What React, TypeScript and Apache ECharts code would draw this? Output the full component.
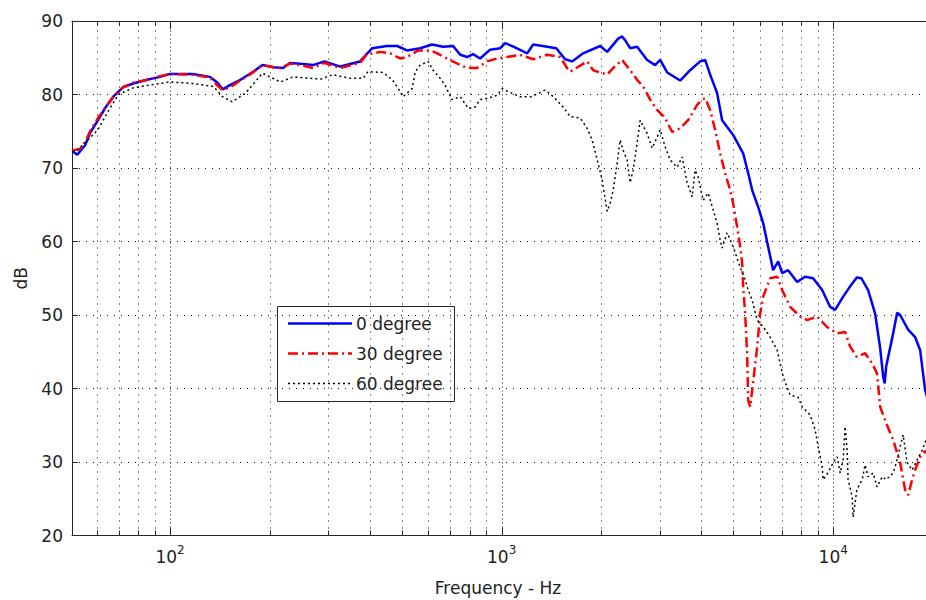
import { useEffect, useRef } from 'react';
import * as echarts from 'echarts';

const FONT = 'DejaVu Sans';

// 0 degree (blue)
const freq0 = [50.7, 52.5, 55.4, 57.4, 60.6, 64.0, 67.4, 72.2, 77.4, 85.3, 93.3, 100, 117, 132, 139, 144, 152, 163, 178, 190, 205, 219, 230, 247, 270, 292, 326, 374, 407, 451, 484, 518, 568, 617, 666, 714, 750, 787, 820, 861, 923, 990, 1025, 1085, 1194, 1245, 1372, 1461, 1554, 1632, 1761, 1982, 2081, 2247, 2309, 2357, 2441, 2562, 2747, 2903, 3007, 3157, 3455, 3703, 3970, 4109, 4255, 4465, 4624, 4991, 5351, 5540, 5697, 5938, 6149, 6365, 6590, 6825, 7015, 7312, 7786, 8230, 8700, 9262, 9792, 10137, 10716, 11251, 11780, 12163, 12744, 13380, 13857, 14149, 14300, 14447, 15166, 15591, 15921, 16826, 17663, 18294, 18934, 20000];
const db0 = [72.3, 71.8, 73.1, 74.8, 76.5, 78.3, 79.7, 81.0, 81.5, 82.0, 82.4, 82.8, 82.8, 82.4, 81.6, 80.7, 81.3, 82.0, 83.1, 84.0, 83.7, 83.6, 84.3, 84.2, 84.0, 84.5, 83.8, 84.5, 86.3, 86.6, 86.6, 86.0, 86.3, 86.8, 86.5, 86.6, 85.4, 85.1, 85.5, 84.9, 86.1, 86.3, 87.0, 86.5, 85.6, 86.8, 86.5, 86.3, 84.8, 84.5, 85.6, 86.6, 85.8, 87.6, 87.9, 87.4, 86.3, 86.5, 84.7, 84.0, 84.7, 83.0, 81.9, 83.3, 84.5, 84.7, 82.7, 80.2, 76.5, 74.5, 72.0, 69.3, 67.0, 64.7, 62.5, 59.3, 56.1, 57.3, 55.7, 56.1, 54.5, 55.2, 55.0, 53.4, 51.1, 50.7, 52.5, 53.9, 55.1, 55.0, 53.4, 50.2, 45.5, 41.6, 40.7, 43.0, 47.5, 50.3, 50.0, 48.0, 47.0, 45.2, 39.8, 36.0];

// 30 degree (red)
const freq30 = [50.7, 53.5, 55.4, 57.4, 60.6, 64.0, 67.4, 72.2, 77.4, 85.3, 93.3, 100, 117, 132, 139, 144, 152, 163, 178, 190, 205, 215, 230, 247, 270, 292, 326, 374, 391, 430, 461, 494, 518, 561, 609, 639, 684, 735, 787, 843, 904, 969, 1039, 1137, 1245, 1372, 1501, 1575, 1609, 1811, 1888, 2081, 2170, 2309, 2441, 2562, 2672, 2805, 2944, 3112, 3268, 3455, 3651, 3886, 4025, 4109, 4255, 4404, 4561, 4721, 4889, 4991, 5131, 5241, 5314, 5351, 5425, 5501, 5540, 5620, 5899, 6022, 6149, 6455, 6778, 7015, 7417, 7950, 8344, 8942, 9562, 10279, 10864, 11251, 11780, 12483, 13108, 13567, 13857, 14447, 15166, 15921, 16478, 16826, 17302, 17663, 18294, 18934, 20000];
const db30 = [72.4, 72.6, 73.5, 75.0, 76.8, 78.3, 79.7, 81.0, 81.6, 82.0, 82.5, 82.8, 82.7, 82.3, 81.2, 80.6, 81.0, 81.9, 83.0, 84.0, 83.7, 83.6, 84.2, 84.0, 83.6, 84.3, 83.6, 84.3, 85.4, 85.8, 85.6, 84.9, 85.1, 86.0, 86.0, 85.6, 84.9, 84.2, 83.6, 83.6, 84.5, 84.9, 85.1, 85.4, 84.8, 85.4, 85.1, 83.6, 83.1, 84.5, 83.3, 82.7, 83.6, 84.7, 83.3, 82.0, 81.1, 79.3, 77.9, 76.8, 74.9, 75.4, 76.5, 78.6, 79.3, 79.5, 77.9, 75.2, 72.0, 69.3, 67.0, 65.2, 62.0, 59.3, 57.1, 53.9, 50.2, 44.8, 38.4, 37.5, 45.7, 50.2, 52.5, 55.0, 55.2, 53.4, 51.1, 49.8, 49.3, 49.8, 48.4, 47.5, 47.7, 45.7, 44.3, 44.8, 43.4, 42.0, 37.5, 35.3, 33.0, 29.9, 26.2, 25.5, 27.6, 28.9, 30.7, 31.5, 30.0];

// 60 degree (black)
const freq60 = [50.7, 52.5, 60.6, 64.6, 69.9, 77.4, 87, 100, 117, 135, 144, 154, 169, 190, 215, 235, 264, 285, 310, 349, 382, 395, 439, 468, 488, 504, 537, 549, 568, 600, 621, 652, 675, 707, 750, 793, 831, 861, 910, 969, 1004, 1046, 1137, 1228, 1353, 1431, 1533, 1609, 1725, 1811, 1875, 1942, 2010, 2081, 2125, 2170, 2231, 2277, 2325, 2390, 2441, 2492, 2562, 2617, 2747, 2844, 2944, 3007, 3112, 3223, 3383, 3503, 3626, 3755, 3832, 3914, 4054, 4197, 4345, 4465, 4561, 4624, 4788, 4991, 5241, 5425, 5540, 5697, 5899, 6149, 6455, 6778, 6919, 7064, 7417, 7840, 8061, 8522, 8819, 9005, 9262, 9327, 9629, 9998, 10279, 10496, 10716, 10864, 11015, 11092, 11408, 11488, 11780, 12228, 12483, 12744, 13199, 13567, 14051, 14447, 15166, 15591, 15921, 16255, 16709, 17302, 17910, 18550, 19066, 20000];
const db60 = [72.2, 72.4, 75.2, 77.5, 80.0, 80.9, 81.3, 81.7, 81.5, 81.1, 79.7, 79.0, 80.2, 82.9, 81.7, 82.4, 82.2, 82.1, 82.7, 82.2, 82.2, 83.1, 83.0, 82.0, 80.8, 79.7, 80.8, 83.1, 84.0, 84.5, 83.3, 82.2, 81.3, 79.3, 79.7, 78.1, 78.3, 79.3, 79.5, 79.9, 80.8, 80.4, 79.7, 79.7, 80.6, 79.7, 78.3, 77.0, 76.8, 75.4, 73.8, 71.1, 68.4, 64.1, 65.2, 67.0, 70.7, 73.8, 72.4, 71.1, 68.0, 69.7, 73.4, 76.5, 74.7, 72.7, 74.2, 75.2, 72.9, 71.1, 70.1, 71.5, 68.0, 66.1, 69.7, 68.8, 65.6, 66.6, 64.3, 62.5, 60.2, 59.1, 61.2, 59.3, 56.5, 54.8, 53.4, 52.0, 49.3, 48.4, 47.0, 45.2, 43.4, 41.6, 39.1, 38.8, 37.5, 36.4, 34.4, 32.1, 29.4, 27.6, 28.5, 29.9, 30.7, 28.5, 30.3, 34.8, 31.6, 27.6, 25.3, 22.5, 26.2, 27.6, 29.6, 28.0, 28.5, 26.6, 28.0, 27.6, 28.5, 30.3, 32.1, 33.7, 29.9, 28.9, 30.3, 31.6, 33.0, 32.0];

const seriesNames = ['0 degree', '30 degree', '60 degree'];
const minorFreqs = [60, 70, 80, 90, 200, 300, 400, 500, 600, 700, 800, 900, 2000, 3000, 4000, 5000, 6000, 7000, 8000, 9000];
const majorFreqs = [100, 1000, 10000];
const xLabel = 'Frequency - Hz';
const yLabel = 'dB';

const zip = (xs: number[], ys: number[]) => xs.map((x, i) => [x, ys[i]]);

export default function App() {
  const ref = useRef<HTMLDivElement>(null);
  useEffect(() => {
    if (!ref.current) return;
    const chart = echarts.init(ref.current, undefined, { renderer: 'svg' });
    const textColor = '#222';
    const axisLine = { show: true, onZero: false, lineStyle: { color: '#262626', width: 1 } };
    const gridData = [
      ...minorFreqs.map((f) => [f, 20, 0]),
      ...majorFreqs.map((f) => [f, 20, 1]),
    ];
    const labelFmt = (v: number) => {
      const e = Math.log10(v);
      const r = Math.round(e);
      if (Math.abs(e - r) < 1e-6) return '{b|10}{sup|' + r + '}';
      return '';
    };
    chart.setOption({
      animation: false,
      backgroundColor: '#fff',
      grid: { left: 72, right: 7, top: 21, bottom: 64.5, containLabel: false },
      xAxis: [
        {
          type: 'log',
          logBase: 10,
          min: 50.6,
          max: 20000,
          position: 'bottom',
          axisLine,
          axisTick: { show: false },
          splitLine: { show: false },
          minorTick: { show: false },
          axisLabel: {
            formatter: labelFmt,
            margin: 8,
            color: textColor,
            rich: {
              b: { fontFamily: FONT, fontSize: 17, color: textColor, verticalAlign: 'bottom', lineHeight: 22 },
              sup: { fontFamily: FONT, fontSize: 12, color: textColor, verticalAlign: 'bottom', padding: [0, 0, 10, 0], lineHeight: 22 },
            },
          },
        },
        {
          type: 'log',
          logBase: 10,
          min: 50.6,
          max: 20000,
          position: 'top',
          axisLine,
          axisTick: { show: false },
          axisLabel: { show: false },
          splitLine: { show: false },
        },
      ],
      yAxis: [
        {
          type: 'value',
          min: 20,
          max: 90,
          interval: 10,
          position: 'left',
          axisLine,
          axisTick: { show: true, inside: true, length: 6, lineStyle: { color: '#262626' } },
          splitLine: { show: true, lineStyle: { color: '#111', width: 1, type: [1, 6] } },
          axisLabel: { fontFamily: FONT, fontSize: 17, color: textColor, margin: 9 },
          name: yLabel,
          nameLocation: 'middle',
          nameGap: 43,
          nameRotate: 90,
          nameTextStyle: { fontFamily: FONT, fontSize: 17, color: textColor },
        },
        {
          type: 'value',
          min: 20,
          max: 90,
          interval: 10,
          position: 'right',
          axisLine,
          axisTick: { show: true, inside: true, length: 6 },
          axisLabel: { show: false },
          splitLine: { show: false },
        },
      ],
      series: [
        {
          type: 'custom',
          silent: true,
          z: 1,
          clip: false,
          encode: { x: 0, y: 1 },
          data: gridData,
          renderItem: (params: any, api: any) => {
            const f = api.value(0);
            const major = api.value(2) === 1;
            const top = api.coord([f, 90]);
            const bot = api.coord([f, 20]);
            const x = Math.round(top[0]) + 0.5;
            return {
              type: 'group',
              children: [
                {
                  type: 'line',
                  shape: { x1: x, y1: bot[1], x2: x, y2: top[1] },
                  style: { stroke: '#111', lineWidth: 1, lineDash: major ? [1, 3] : [1, 6] },
                },
                {
                  type: 'line',
                  shape: { x1: x, y1: bot[1], x2: x, y2: bot[1] - (major ? 8 : 5) },
                  style: { stroke: '#262626', lineWidth: 1 },
                },
                {
                  type: 'line',
                  shape: { x1: x, y1: top[1], x2: x, y2: top[1] + (major ? 8 : 5) },
                  style: { stroke: '#262626', lineWidth: 1 },
                },
              ],
            };
          },
        },
        {
          name: seriesNames[0],
          type: 'line',
          z: 3,
          showSymbol: false,
          data: zip(freq0, db0),
          lineStyle: { color: '#0000ff', width: 2.5 },
          itemStyle: { color: '#0000ff' },
        },
        {
          name: seriesNames[1],
          type: 'line',
          z: 4,
          showSymbol: false,
          data: zip(freq30, db30),
          lineStyle: { color: '#ff0000', width: 2.5, type: [10, 4, 2, 4] },
          itemStyle: { color: '#ff0000' },
        },
        {
          name: seriesNames[2],
          type: 'line',
          z: 5,
          showSymbol: false,
          data: zip(freq60, db60),
          lineStyle: { color: '#000', width: 1.5, type: [2, 3] },
          itemStyle: { color: '#000' },
        },
      ],
      graphic: [
        {
          type: 'text',
          x: 498,
          y: 588,
          style: { text: xLabel, fontFamily: FONT, fontSize: 17, fill: textColor, align: 'center', verticalAlign: 'middle' },
        },
        {
          type: 'group',
          z: 100,
          children: [
            { type: 'rect', shape: { x: 277.5, y: 306.5, width: 177, height: 95 }, style: { fill: '#fff', stroke: '#262626', lineWidth: 1 } },
            { type: 'line', shape: { x1: 288, y1: 323.5, x2: 352, y2: 323.5 }, style: { stroke: '#0000ff', lineWidth: 2.5 } },
            { type: 'line', shape: { x1: 288, y1: 353.5, x2: 352, y2: 353.5 }, style: { stroke: '#ff0000', lineWidth: 2.5, lineDash: [10, 4, 2, 4] } },
            { type: 'line', shape: { x1: 288, y1: 383.5, x2: 352, y2: 383.5 }, style: { stroke: '#000', lineWidth: 1.5, lineDash: [2, 3] } },
            { type: 'text', x: 356, y: 324, style: { text: seriesNames[0], fontFamily: FONT, fontSize: 17, fill: textColor, verticalAlign: 'middle' } },
            { type: 'text', x: 356, y: 354, style: { text: seriesNames[1], fontFamily: FONT, fontSize: 17, fill: textColor, verticalAlign: 'middle' } },
            { type: 'text', x: 356, y: 384, style: { text: seriesNames[2], fontFamily: FONT, fontSize: 17, fill: textColor, verticalAlign: 'middle' } },
          ],
        },
      ],
    });
    return () => chart.dispose();
  }, []);
  return (
    <div style={{ position: 'absolute', left: 0, top: 0, width: 926, height: 600, overflow: 'hidden' }}>
      <div ref={ref} style={{ width: 940, height: 600 }} />
    </div>
  );
}
